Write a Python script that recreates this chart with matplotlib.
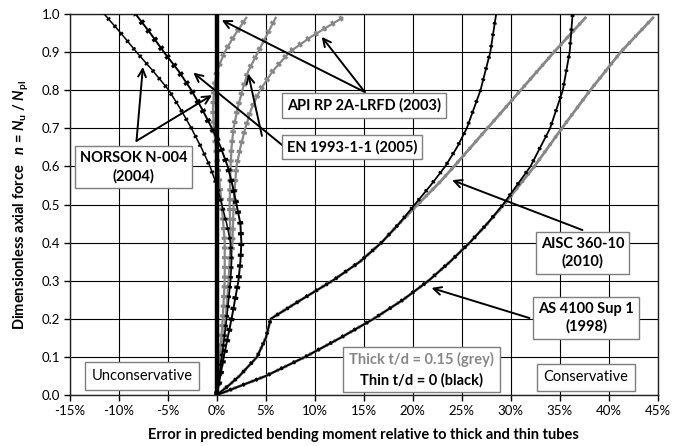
import matplotlib
matplotlib.use("Agg")
import matplotlib.pyplot as plt
from matplotlib.patches import Rectangle

plt.rcParams['font.family'] = ['Lato', 'DejaVu Sans']
plt.rcParams['mathtext.fontset'] = 'custom'
plt.rcParams['mathtext.rm'] = 'Lato:bold'
plt.rcParams['mathtext.it'] = 'Lato:bold:italic'
plt.rcParams['mathtext.bf'] = 'Lato:bold'

# axial force ratio n and error (%) for each code, thin (black) and thick (grey) tubes
n_full = [0.0, 0.1, 0.2, 0.3, 0.35, 0.4, 0.45, 0.5, 0.55, 0.6, 0.65, 0.7, 0.75, 0.8, 0.85, 0.9, 0.95, 1.0]
norsok_thin = [0.0, 0.5, 1.0, 1.4, 1.5, 1.4, 1.0, 0.5, 0.0, -0.7, -1.6, -2.6, -3.7, -4.9, -6.5, -8.2, -9.8, -11.5]
en_thin = [0.0, 0.7, 1.5, 2.2, 2.4, 2.5, 2.4, 2.0, 1.6, 1.1, 0.4, -0.5, -1.5, -2.6, -3.9, -5.4, -6.8, -8.3]
api_thin = [0.0] * len(n_full)

n_thick = [0.0, 0.1, 0.2, 0.3, 0.4, 0.5, 0.6, 0.65, 0.7, 0.75, 0.8, 0.85, 0.9, 0.94, 0.99]
norsok_thick = [0.0, 0.3, 0.6, 0.8, 0.8, 0.5, 0.1, -0.1, -0.3, -0.4, -0.3, 0.0, 0.8, 1.7, 3.0]
en_thick = [0.0, 0.5, 0.9, 1.2, 1.4, 1.3, 1.4, 1.5, 1.7, 2.1, 2.6, 3.2, 4.2, 5.0, 6.0]
api_thick = [0.0, 0.5, 0.9, 1.3, 1.6, 1.7, 2.0, 2.4, 2.9, 3.5, 4.4, 5.7, 7.4, 9.6, 12.8]

n_aisc = [0.0, 0.025, 0.05, 0.1, 0.15, 0.19, 0.2, 0.25, 0.3, 0.35, 0.4, 0.45, 0.5, 0.55, 0.6, 0.65, 0.7, 0.8, 0.9, 1.0]
aisc_thin = [0.0, 1.2, 2.3, 4.1, 5.0, 5.4, 5.5, 8.6, 11.8, 14.6, 16.8, 18.6, 20.2, 21.8, 23.3, 24.5, 25.5, 26.9, 27.9, 28.5]
n_aisc_thick = [0.0, 0.025, 0.05, 0.1, 0.15, 0.19, 0.2, 0.25, 0.3, 0.35, 0.4, 0.45, 0.5, 0.56, 0.6, 0.7, 0.8, 0.9, 0.99]
aisc_thick = [0.0, 1.2, 2.3, 4.1, 5.0, 5.4, 5.5, 8.6, 11.8, 14.6, 16.8, 18.6, 20.5, 22.8, 24.2, 27.6, 31.0, 34.4, 37.6]

n_as = [0.0, 0.05, 0.1, 0.15, 0.2, 0.25, 0.3, 0.35, 0.4, 0.45, 0.5, 0.6, 0.7, 0.8, 0.9, 1.0]
as_thin = [0.0, 5.0, 9.0, 12.6, 16.0, 19.0, 21.6, 23.8, 25.8, 27.6, 29.2, 32.0, 34.0, 35.3, 36.0, 36.3]
n_as_thick = [0.0, 0.05, 0.1, 0.15, 0.2, 0.25, 0.3, 0.35, 0.4, 0.45, 0.5, 0.6, 0.7, 0.8, 0.9, 0.99]
as_thick = [0.0, 5.0, 9.0, 12.6, 16.0, 19.0, 21.6, 23.8, 25.8, 27.6, 29.3, 32.4, 35.2, 38.1, 41.2, 44.5]

x_ticks = list(range(-15, 50, 5))
y_ticks = [i / 10 for i in range(11)]

BLACK = '#000000'
GREY = '#878787'

fig = plt.figure(figsize=(6.85, 4.46), dpi=100)
ax = fig.add_axes([0.102, 0.1143, 0.8584, 0.8543])


def beaded(x, y, color, lw=1.2, bead=3.0, gap=1.6):
    # solid line with a dash overlay that looks like dense markers
    ax.plot(x, y, color=color, lw=lw, solid_joinstyle='round', zorder=3)
    ax.plot(x, y, color=color, lw=bead, linestyle=(0, (0.55, gap)),
            dash_capstyle='butt', zorder=3)


# thick tubes (grey)
beaded(norsok_thick, n_thick, GREY, lw=1.6, bead=4.0, gap=1.2)
beaded(en_thick, n_thick, GREY, lw=1.6, bead=4.0, gap=1.2)
beaded(api_thick, n_thick, GREY, lw=1.6, bead=4.0, gap=1.2)
beaded(aisc_thick, n_aisc_thick, GREY, lw=2.0, bead=2.6, gap=2.0)
beaded(as_thick, n_as_thick, GREY, lw=2.0, bead=2.6, gap=2.0)

# thin tubes (black)
beaded(norsok_thin, n_full, BLACK, lw=1.1, bead=3.0, gap=1.8)
beaded(en_thin, n_full, BLACK, lw=1.4, bead=4.2, gap=1.3)
ax.plot(api_thin, n_full, color=BLACK, lw=3.2, zorder=4)
beaded(aisc_thin, n_aisc, BLACK, lw=1.3, bead=2.8, gap=2.4)
beaded(as_thin, n_as, BLACK, lw=1.3, bead=2.8, gap=3.0)

ax.set_xlim(-15, 45)
ax.set_ylim(0, 1.0)
ax.set_xticks(x_ticks)
ax.set_xticklabels([f'{v}%' for v in x_ticks])
ax.set_yticks(y_ticks)
ax.set_yticklabels([f'{v:.1f}' for v in y_ticks])
ax.grid(True, color='black', lw=0.8)
ax.set_axisbelow(True)
for s in ax.spines.values():
    s.set_color('#202020')
    s.set_linewidth(1.0)
ax.tick_params(axis='both', direction='out', length=4, width=1.0,
               labelsize=9.5, colors='black', pad=3)

ax.set_xlabel('Error in predicted bending moment relative to thick and thin tubes',
              fontsize=10.5, fontweight='bold', labelpad=8)
ax.set_ylabel(r'Dimensionless axial force   $n$ = $N_{\rm u}$ / $N_{\rm pl}$',
              fontsize=10.5, fontweight='bold', labelpad=8)

box = dict(boxstyle='square,pad=0.35', fc='white', ec='#7f7f7f', lw=1.0)
arrow = dict(arrowstyle='->', color='black', lw=1.4, mutation_scale=14, shrinkA=0, shrinkB=0)

ax.text(-8.5, 0.598, 'NORSOK N-004\n(2004)', ha='center', va='center', fontsize=10.5,
        fontweight='bold', bbox=box, zorder=6, linespacing=1.3)
for tgt in [(-7.55, 0.861), (-0.5, 0.787)]:
    ax.annotate('', xy=tgt, xytext=(-8.2, 0.667), arrowprops=arrow, zorder=5)

ax.text(13.8, 0.651, 'EN 1993-1-1 (2005)', ha='center', va='center', fontsize=10.5,
        fontweight='bold', bbox=box, zorder=6)
ax.annotate('', xy=(-2.4, 0.846), xytext=(6.9, 0.651), arrowprops=arrow, zorder=5)
ax.annotate('', xy=(3.2, 0.843), xytext=(4.6, 0.68), arrowprops=arrow, zorder=5)

ax.text(15.0, 0.759, 'API RP 2A-LRFD (2003)', ha='center', va='center', fontsize=10.5,
        fontweight='bold', bbox=box, zorder=6)
for tgt in [(0.5, 0.984), (10.7, 0.94)]:
    ax.annotate('', xy=tgt, xytext=(15.1, 0.795), arrowprops=arrow, zorder=5)

ax.text(37.3, 0.373, 'AISC 360-10\n(2010)', ha='center', va='center', fontsize=10.5,
        fontweight='bold', bbox=box, zorder=6, linespacing=1.3)
ax.annotate('', xy=(24.0, 0.564), xytext=(37.3, 0.433), arrowprops=arrow, zorder=5)

ax.text(37.7, 0.202, 'AS 4100 Sup 1\n(1998)', ha='center', va='center', fontsize=10.5,
        fontweight='bold', bbox=box, zorder=6, linespacing=1.3)
ax.annotate('', xy=(21.9, 0.281), xytext=(31.9, 0.202), arrowprops=arrow, zorder=5)

ax.text(-7.65, 0.05, 'Unconservative', ha='center', va='center', fontsize=10.5,
        bbox=dict(boxstyle='square,pad=0.45', fc='white', ec='#7f7f7f', lw=1.0), zorder=6)
ax.text(37.65, 0.047, 'Conservative', ha='center', va='center', fontsize=10.5,
        bbox=dict(boxstyle='square,pad=0.45', fc='white', ec='#7f7f7f', lw=1.0), zorder=6)

# key box: grey line for thick tubes, black line for thin tubes
ax.add_patch(Rectangle((12.9, 0.008), 16.0, 0.118, fc='white', ec='#7f7f7f', lw=1.0, zorder=6))
ax.text(20.9, 0.094, 'Thick t/d = 0.15 (grey)', ha='center', va='center', fontsize=10.5,
        fontweight='bold', color=GREY, zorder=7)
ax.text(20.9, 0.039, 'Thin t/d = 0 (black)', ha='center', va='center', fontsize=10.5,
        fontweight='bold', color='black', zorder=7)

fig.savefig('out.png', dpi=100)
